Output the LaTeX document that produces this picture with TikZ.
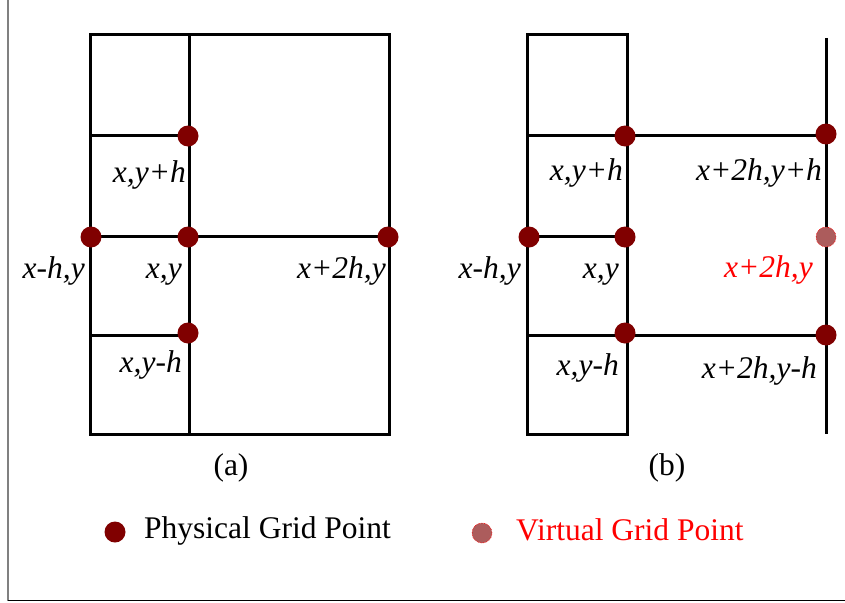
\documentclass[tikz,border=0pt]{standalone}
\usepackage{fontspec}
\setmainfont{Liberation Serif}
\definecolor{physred}{RGB}{128,0,0}
\definecolor{virtfill}{RGB}{172,92,92}
\definecolor{virtred}{RGB}{255,0,0}
\tikzset{
  gridline/.style={line width=3pt, line cap=rect},
  phys/.style={circle, fill=physred, inner sep=0pt, minimum size=21pt},
  virt/.style={circle, fill=virtfill, draw=virtred, densely dotted, line width=0.6pt, inner sep=0pt, minimum size=20pt},
  lbl/.style={anchor=base east, inner sep=0pt, font=\fontsize{31.5}{37}\selectfont\itshape},
  captext/.style={anchor=base, inner sep=0pt, font=\fontsize{31.5}{37}\selectfont},
}
\begin{document}
\begin{tikzpicture}[x=1pt,y=-1pt]
\useasboundingbox (0,0) rectangle (845,602);
% frame
\draw[gray, line width=1.5pt] (8,0) -- (8,601);
\draw[black, line width=1.5pt] (8,600.5) -- (845,600.5);

% ---------- panel (a)
\draw[gridline] (90,35) rectangle (389,434);
\draw[gridline] (189,35) -- (189,434);
\draw[gridline] (90,135) -- (189,135);
\draw[gridline] (90,236) -- (389,236);
\draw[gridline] (90,335) -- (189,335);
\node[phys] (a1) at (188,136) {};
\node[phys] (a2) at (91,237) {};
\node[phys] (a3) at (188,237) {};
\node[phys] (a4) at (388,237) {};
\node[phys] (a5) at (188,333) {};
\node[lbl] (la1) at (186,182) {x,y+h};
\node[lbl] (la2) at (85,278) {x-h,y};
\node[lbl] (la3) at (182,278) {x,y};
\node[lbl] (la4) at (386,278) {x+2h,y};
\node[lbl] (la5) at (182,372) {x,y-h};
\node[captext] (capa) at (231,475) {(a)};

% ---------- panel (b)
\draw[gridline] (527,35) rectangle (627,434);
\draw[gridline] (527,135) -- (826,135);
\draw[gridline] (527,236) -- (627,236);
\draw[gridline] (527,335) -- (826,335);
\draw[gridline, line cap=butt] (826,38) -- (826,434);
\node[phys] (b1) at (625,136) {};
\node[phys] (b2) at (826,134) {};
\node[phys] (b3) at (529,237) {};
\node[phys] (b4) at (625,237) {};
\node[virt] (b5) at (826,237) {};
\node[phys] (b6) at (625,333) {};
\node[phys] (b7) at (826,335) {};
\node[lbl] (lb1) at (623,180) {x,y+h};
\node[lbl] (lb2) at (822,180) {x+2h,y+h};
\node[lbl] (lb3) at (521,278) {x-h,y};
\node[lbl] (lb4) at (619,278) {x,y};
\node[lbl, text=virtred] (lb5) at (813,277) {x+2h,y};
\node[lbl] (lb6) at (619,375) {x,y-h};
\node[lbl] (lb7) at (817,378) {x+2h,y-h};
\node[captext] (capb) at (667,475) {(b)};

% ---------- legend
\node[phys] (legp) at (115,532) {};
\node[captext, anchor=base west] (legpt) at (144,538) {Physical Grid Point};
\node[virt] (legv) at (482,533) {};
\node[captext, anchor=base west, text=virtred] (legvt) at (516,540) {Virtual Grid Point};
\end{tikzpicture}
\end{document}
